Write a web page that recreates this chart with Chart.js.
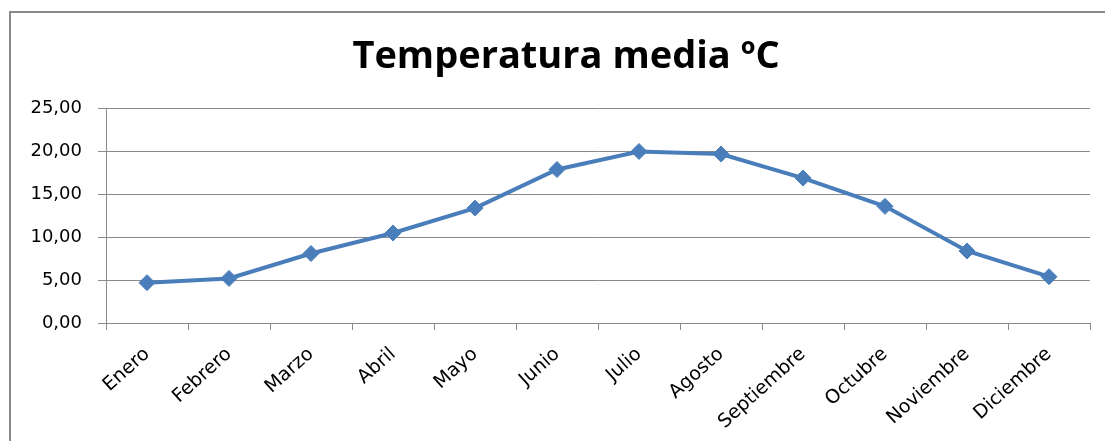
<!DOCTYPE html>
<html lang="es">
<head>
<meta charset="utf-8">
<title>Temperatura media ºC</title>
<script src="https://cdn.jsdelivr.net/npm/chart.js@4"></script>
<style>
    html, body { margin: 0; padding: 0; background: #fff; }
    #wrap { position: relative; width: 1105px; height: 441px; overflow: hidden; }
    #marco {
        position: absolute; left: 9px; top: 11px; width: 1200px; height: 500px;
        border-left: 2px solid #8a8a8a; border-top: 2px solid #8a8a8a;
    }
    #grafico { position: absolute; left: 0; top: 0; }
</style>
</head>
<body>
<div id="wrap">
    <div id="marco"></div>
    <canvas id="grafico" width="1105" height="441"></canvas>
</div>
<script>
// Datos del gráfico
const meses = ["Enero", "Febrero", "Marzo", "Abril", "Mayo", "Junio", "Julio",
               "Agosto", "Septiembre", "Octubre", "Noviembre", "Diciembre"];
const temperaturas = [4.7, 5.2, 8.1, 10.5, 13.4, 17.9, 20.0, 19.7, 16.9, 13.6, 8.4, 5.4];
const ejeY = { min: 0, max: 25, paso: 5 };

// Mover el título un poco a la derecha (centrado en el marco, no en el lienzo)
const centrarTitulo = {
    id: 'centrarTitulo',
    afterLayout: function(chart) {
        if (chart.titleBlock) {
            chart.titleBlock.left += 21;
            chart.titleBlock.right += 21;
        }
    }
};

// Crear gráfico
document.addEventListener('DOMContentLoaded', function() {
    const ctx = document.getElementById('grafico').getContext('2d');
    const azul = '#4a7ebb';

    new Chart(ctx, {
        type: 'line',
        data: {
            labels: meses,
            datasets: [{
                label: 'Temperatura media ºC',
                data: temperaturas,
                borderColor: azul,
                backgroundColor: azul,
                borderWidth: 4,
                pointStyle: 'rectRot',
                pointRadius: 8,
                pointBorderWidth: 1,
                pointBackgroundColor: azul,
                pointBorderColor: azul,
                tension: 0,
                fill: false
            }]
        },
        plugins: [centrarTitulo],
        options: {
            responsive: false,
            animation: false,
            events: [],
            layout: { padding: { left: 0, right: 15, top: 0, bottom: 0 }, autoPadding: false },
            plugins: {
                legend: { display: false },
                tooltip: { enabled: false },
                title: {
                    display: true,
                    text: 'Temperatura media ºC',
                    color: '#000',
                    font: { family: 'Open Sans', size: 38, weight: 'bold' },
                    padding: { top: 34, bottom: 29 }
                }
            },
            scales: {
                x: {
                    offset: true,
                    grid: {
                        offset: true,
                        drawOnChartArea: false,
                        drawTicks: true,
                        tickLength: 7,
                        color: '#8a8a8a'
                    },
                    border: { color: '#8a8a8a', width: 1 },
                    ticks: {
                        color: '#000',
                        font: { family: 'DejaVu Sans', size: 19 },
                        minRotation: 42,
                        maxRotation: 42,
                        autoSkip: false,
                        padding: 13
                    },
                    afterFit: function(scale) { scale.height = 118; }
                },
                y: {
                    min: ejeY.min,
                    max: ejeY.max,
                    grid: { color: '#8a8a8a', tickLength: 8 },
                    border: { color: '#8a8a8a', width: 1 },
                    ticks: {
                        stepSize: ejeY.paso,
                        color: '#000',
                        font: { family: 'DejaVu Sans', size: 18 },
                        padding: 16,
                        callback: function(v) { return v.toFixed(2).replace('.', ','); }
                    },
                    afterFit: function(scale) { scale.width = 106; }
                }
            }
        }
    });
});
</script>
</body>
</html>
